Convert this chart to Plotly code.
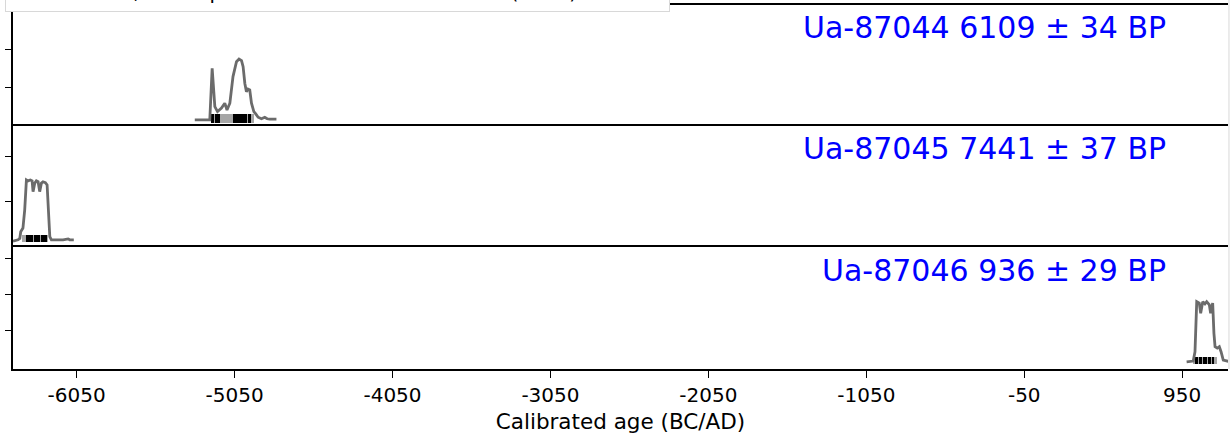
import plotly.graph_objects as go

# Calibrated probability curves (calendar year BC/AD, relative density)
years_87044 = [-5302, -5207, -5192, -5175, -5158, -5133, -5112, -5098, -5080, -5060,
               -5038, -5022, -5006, -4996, -4985, -4975, -4965, -4954, -4943, -4928,
               -4916, -4901, -4880, -4859, -4844, -4827, -4785]
dens_87044 = [0.16, 0.16, 1.52, 0.51, 0.38, 0.47, 0.60, 0.42, 0.60, 1.30,
              1.69, 1.76, 1.72, 1.56, 1.12, 0.90, 0.97, 0.95, 0.60, 0.38,
              0.32, 0.23, 0.19, 0.23, 0.19, 0.18, 0.18]

years_87045 = [-6453, -6421, -6410, -6404, -6390, -6379, -6368, -6358, -6343, -6332,
               -6326, -6315, -6305, -6294, -6284, -6273, -6263, -6248, -6237, -6231,
               -6220, -6210, -6136, -6104, -6094, -6068]
dens_87045 = [0.13, 0.16, 0.19, 0.34, 0.42, 0.82, 1.49, 1.47, 1.49, 1.47,
              1.23, 1.42, 1.47, 1.45, 1.23, 1.42, 1.45, 1.43, 1.38, 0.82,
              0.23, 0.16, 0.16, 0.18, 0.16, 0.16]

years_87046 = [978, 1020, 1031, 1037, 1042, 1058, 1067, 1080, 1094, 1105,
               1122, 1130, 1143, 1151, 1158, 1172, 1185, 1196, 1210, 1253]
dens_87046 = [0.13, 0.15, 0.41, 1.29, 1.80, 1.76, 1.48, 1.80, 1.74, 1.80,
              1.71, 1.48, 1.76, 0.92, 0.55, 0.51, 0.55, 0.41, 0.18, 0.13]

# Highest posterior density ranges: 95.4 % (grey) and 68.2 % (black)
hpd95_87044 = [(-5201, -4928)]
hpd68_87044 = [(-5201, -5179), (-5172, -5144), (-5061, -4973), (-4963, -4947)]
hpd95_87045 = [(-6398, -6230)]
hpd68_87045 = [(-6368, -6325), (-6318, -6281), (-6274, -6239)]
hpd95_87046 = [(1018, 1170)]
hpd68_87046 = [(1031, 1050), (1056, 1075), (1081, 1106), (1113, 1132), (1138, 1154)]

sample_labels = ["Ua-87044 6109 ± 34 BP", "Ua-87045 7441 ± 37 BP", "Ua-87046 936 ± 29 BP"]
x_ticks = [-6050, -5050, -4050, -3050, -2050, -1050, -50, 950]
curve_note = "intcal20.14c; Atmospheric data from Reimer et al (2020)"

samples = [
    (years_87044, dens_87044, hpd95_87044, hpd68_87044),
    (years_87045, dens_87045, hpd95_87045, hpd68_87045),
    (years_87046, dens_87046, hpd95_87046, hpd68_87046),
]

# Panel layout: vertical domain, y range, bar level / thickness (y units)
panels = [
    dict(domain=[0.6676, 1.0], yrange=[0, 3.184], ticks=[1, 2, 3], bar_y=0.197, bar_w=0.237),
    dict(domain=[0.3352, 0.6676], yrange=[0, 2.689], ticks=[1, 2], bar_y=0.189, bar_w=0.16),
    dict(domain=[0.0, 0.3352], yrange=[-0.07, 3.32], ticks=[1, 2, 3], bar_y=0.18, bar_w=0.194),
]

FONT = "DejaVu Sans, Verdana, sans-serif"
CURVE_GREY = "#6b6b6b"
RANGE_GREY = "#a6a6a6"
LINE_W = 1.7

fig = go.Figure()
layout = dict()
x_range = [-6453, 1240]

for i, ((yrs, dens, r95, r68), p) in enumerate(zip(samples, panels)):
    n = i + 1
    xa = "x" if n == 1 else f"x{n}"
    ya = "y" if n == 1 else f"y{n}"
    fig.add_trace(go.Scatter(x=yrs, y=dens, mode="lines", xaxis=xa, yaxis=ya,
                             line=dict(color=CURVE_GREY, width=2.8), showlegend=False,
                             hoverinfo="skip"))
    for ranges, col in ((r95, RANGE_GREY), (r68, "black")):
        fig.add_trace(go.Bar(
            orientation="h", xaxis=xa, yaxis=ya,
            base=[a for a, b in ranges], x=[b - a for a, b in ranges],
            y=[p["bar_y"]] * len(ranges), width=p["bar_w"],
            marker=dict(color=col, line=dict(width=0)), showlegend=False,
            hoverinfo="skip"))
    last = n == 3
    xax = dict(
        range=x_range, anchor=ya, showline=True, linecolor="black",
        linewidth=LINE_W, showgrid=False, zeroline=False,
        tickmode="array", tickvals=x_ticks, ticktext=[str(t) for t in x_ticks],
        ticklen=7, tickwidth=1.2, tickcolor="black",
        tickfont=dict(family=FONT, size=20, color="black"),
        matches=None if n == 1 else "x",
    )
    if last:
        # bottom axis carries ticks, labels and title; mirrored line closes the panel top
        xax.update(side="bottom", mirror=True, ticks="outside", showticklabels=True,
                   title=dict(text="Calibrated age (BC/AD)", standoff=8,
                              font=dict(family=FONT, size=21.5, color="black")))
    else:
        # only the top edge of the upper panels is drawn; the next panel draws the divider
        xax.update(side="top", mirror=False, ticks="", showticklabels=False)
    layout[f"xaxis{'' if n == 1 else n}"] = xax
    layout[f"yaxis{'' if n == 1 else n}"] = dict(
        domain=p["domain"], range=p["yrange"], anchor=xa, showline=True,
        linecolor="black", linewidth=LINE_W, showgrid=False, zeroline=False,
        tickmode="array", tickvals=p["ticks"], ticks="outside", ticklen=6,
        tickwidth=1.2, tickcolor="black", showticklabels=False,
    )

annotations = []
for n, label in enumerate(sample_labels, start=1):
    annotations.append(dict(
        text=label, xref=f"x{'' if n == 1 else n} domain", yref=f"y{'' if n == 1 else n} domain",
        x=0.9506, y=0.81, xanchor="right", yanchor="middle", showarrow=False,
        font=dict(family=FONT, size=30, color="#0000ff")))

# curve description box along the top edge
annotations.append(dict(
    text=curve_note, xref="paper", yref="paper", x=-0.0066, y=0.9808,
    xanchor="left", yanchor="bottom", showarrow=False, align="left",
    width=655, height=27, valign="top",
    bgcolor="white", bordercolor="#d8d8d8", borderwidth=1, borderpad=4,
    font=dict(family=FONT, size=20, color="black")))

fig.update_layout(
    **layout,
    annotations=annotations,
    shapes=[dict(type="line", xref="paper", yref="paper", x0=1.0008, x1=1.0008,
                 y0=0, y1=1.02, line=dict(color="#d8d8d8", width=1))],
    barmode="overlay", bargap=0,
    width=1230, height=437,
    margin=dict(l=13, r=2, t=5, b=68),
    paper_bgcolor="white", plot_bgcolor="white",
    font=dict(family=FONT),
)

fig.write_html("out.html")
